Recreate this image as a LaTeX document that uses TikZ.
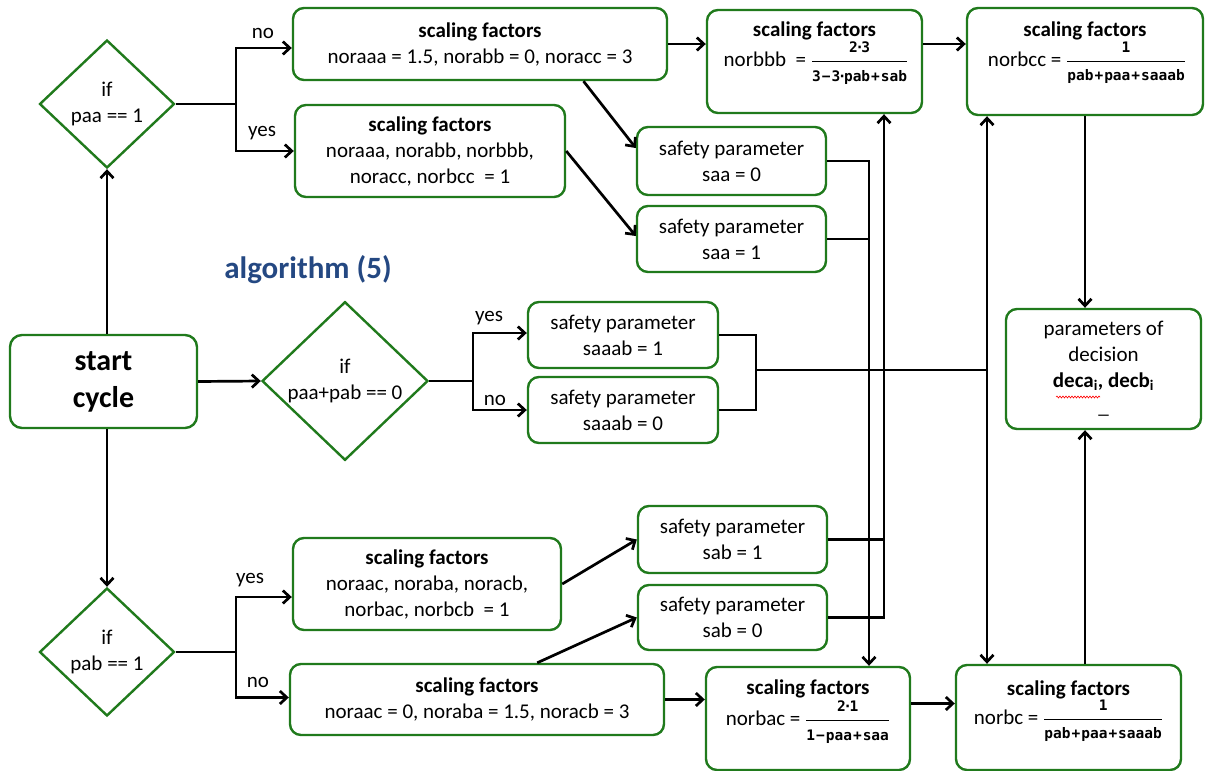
\documentclass[tikz,border=0pt]{standalone}
\usepackage{fontspec}
\usepackage{amsmath}
\setmainfont{Carlito}
\newfontfamily\fmono{DejaVu Sans Mono}
\usetikzlibrary{arrows.meta,shapes.geometric,calc,decorations.pathmorphing}
\definecolor{boxgreen}{RGB}{32,122,28}
\definecolor{algblue}{RGB}{36,72,130}
\newcommand\boxfont{\fontsize{21}{26}\selectfont}
\newcommand\fracfont{\fmono\bfseries\fontsize{14.5}{16}\selectfont}
\newcommand\fr[2]{\ensuremath{\dfrac{\hbox{\fracfont #1}}{\hbox{\fracfont #2}}}}
\newcommand\cdt{\kern-2.5pt·\kern-2.5pt}
\newcommand\pls{\kern1pt+\kern1pt}
\newcommand\mns{\kern1pt−\kern1pt}
\tikzset{
  box/.style={draw=boxgreen, line width=2.4pt, rounded corners=11pt, align=center,
    font=\boxfont, inner sep=0pt},
  dec/.style={draw=boxgreen, line width=2.4pt, diamond, align=center,
    inner sep=0pt, font=\boxfont},
  txt/.style={align=center, font=\boxfont, inner sep=0pt},
  conn/.style={line width=2.7pt, black},
  arr/.style={conn, -{Straight Barb[length=7pt,width=13pt]}},
  arrs/.style={conn, {Straight Barb[length=7pt,width=13pt]}-{Straight Barb[length=7pt,width=13pt]}},
}
\begin{document}
\begin{tikzpicture}[x=1pt,y=-1pt]
\useasboundingbox (0,0) rectangle (1208,771);

% decisions
\node[dec, minimum width=135pt, minimum height=128pt] (d1) at (107,104) {if\\paa == 1};
\node[dec, minimum width=166pt, minimum height=153pt] (d2) at (345,381) {if\\paa+pab == 0};
\node[dec, minimum width=135pt, minimum height=128pt] (d3) at (107,652) {if\\pab == 1};

% start
\node[box, rounded corners=12pt, minimum width=187pt, minimum height=93pt,
  font=\fontsize{30}{37}\selectfont\bfseries] (st) at (103.5,381.5) {start\\cycle};

\node[txt, font=\fontsize{31}{36}\selectfont\bfseries, text=algblue] (alg) at (308,270) {algorithm (5)};

% upper branch
\node[box, minimum width=374pt, minimum height=72pt] (b1) at (480,44)
  {\textbf{scaling factors}\\noraaa = 1.5, norabb = 0, noracc = 3};
\node[box, minimum width=270pt, minimum height=92pt] (b2) at (430,151)
  {\textbf{scaling factors}\\noraaa, norabb, norbbb,\\noracc, norbcc \ = 1};
\node[box, minimum width=189pt, minimum height=68pt] (s1) at (731.5,161)
  {safety parameter\\saa = 0};
\node[box, minimum width=189pt, minimum height=66pt] (s2) at (731.5,239)
  {safety parameter\\saa = 1};
\node[box, minimum width=215pt, minimum height=103pt] (nb) at (814.5,61.5) {};
\node[txt] (nbt) at (814.5,31) {\textbf{scaling factors}};
\node[txt] (nbf) at (816,63) {norbbb \ = \fr{2\cdt 3}{3\mns 3\cdt pab\pls sab}};
\node[box, minimum width=236pt, minimum height=107pt] (nc) at (1085,61.5) {};
\node[txt] (nct) at (1085,31) {\textbf{scaling factors}};
\node[txt] (ncf) at (1087,63) {norbcc = \fr{1}{pab\pls paa\pls saaab}};

% middle branch
\node[box, minimum width=190pt, minimum height=66pt] (t1) at (623,335)
  {safety parameter\\saaab = 1};
\node[box, minimum width=190pt, minimum height=66pt] (t0) at (623,410)
  {safety parameter\\saaab = 0};
\node[box, minimum width=195pt, minimum height=120pt] (pd) at (1103.5,369)
  {parameters of\\decision\\\textbf{deca\textsubscript{i}, decb\textsubscript{i}}\\\_};
\draw[red, line width=0.6pt, decorate, decoration={snake, amplitude=1pt, segment length=3pt}]
  (1056,397) -- (1100,397);

% lower branch
\node[box, minimum width=268pt, minimum height=92pt] (b3) at (427,584)
  {\textbf{scaling factors}\\noraac, noraba, noracb,\\norbac, norbcb \ = 1};
\node[box, minimum width=374pt, minimum height=71pt] (b4) at (477,699.5)
  {\textbf{scaling factors}\\noraac = 0, noraba = 1.5, noracb = 3};
\node[box, minimum width=189pt, minimum height=67pt] (u1) at (732.5,539.5)
  {safety parameter\\sab = 1};
\node[box, minimum width=189pt, minimum height=65pt] (u0) at (732.5,617.5)
  {safety parameter\\sab = 0};
\node[box, minimum width=204pt, minimum height=103pt] (na) at (808,718.5) {};
\node[txt] (nat) at (808,689) {\textbf{scaling factors}};
\node[txt] (naf) at (808,722) {norbac = \fr{2\cdt 1}{1\mns paa\pls saa}};
\node[box, minimum width=225pt, minimum height=105pt] (nbc) at (1068.5,717.5) {};
\node[txt] (nbct) at (1068.5,690) {\textbf{scaling factors}};
\node[txt] (nbcf) at (1068.5,721) {norbc = \fr{1}{pab\pls paa\pls saaab}};

% junction points
\coordinate (j1) at (236,104);
\coordinate (j2) at (473,381);
\coordinate (j3) at (236,652);
\coordinate (xa) at (869,0);
\coordinate (xb) at (884,0);
\coordinate (xc) at (756,0);
\coordinate (xd) at (987,0);
\coordinate (jm) at (756,370);

% start connectors
\draw[arr] (d1.south |- st.north) -- (d1.south);
\draw[arr] (d3.north |- st.south) -- (d3.north);
\draw[arr] (st.east) -- (d2.west);

% branches of the decisions
\draw[conn] (d1.east) -- (j1);
\draw[arr] (j1) |- ([yshift=-4pt]b1.west);
\draw[arr] (j1) |- (b2.west);
\node[txt] (l1) at (263,33) {no};
\node[txt] (l2) at (262,133) {yes};

\draw[conn] (d2.east) -- (j2);
\draw[arr] (j2) |- ([yshift=2pt]t1.west);
\draw[arr] (j2) |- (t0.west);
\node[txt] (l3) at (489,318) {yes};
\node[txt] (l4) at (495,400) {no};

\draw[conn] (d3.east) -- (j3);
\draw[arr] (j3) |- ([yshift=-13pt]b3.west);
\draw[arr] (j3) |- ([yshift=2pt]b4.west);
\node[txt] (l5) at (250,580) {yes};
\node[txt] (l6) at (258,682) {no};

% scaling factors to safety parameters
\draw[arr] ($(b1.south west)!0.775!(b1.south east)$) -- ([yshift=13pt]s1.west);
\draw[arr] (b2.east) -- ([yshift=3pt]s2.west);
\draw[arr] (b3.east) -- (u1.west);
\draw[arr] ($(b4.north west)!0.66!(b4.north east)$) -- (u0.west);

% scaling factor chains
\draw[arr] (b1.east) -- (b1.east -| nb.west);
\draw[arr] (b1.east -| nb.east) -- (b1.east -| nc.west);
\draw[arr] (b4.east) -- (b4.east -| na.west);
\draw[arr] ([yshift=15pt]na.east) -- ([yshift=15pt]na.east -| nbc.west);
\draw[arr] (nc.south) -- (nc.south |- pd.north);
\draw[arr] (nbc.north -| nc.south) -- (pd.south -| nc.south);

% safety parameter buses
\draw[arr] (s1.east) -| (xa |- na.north);
\draw[conn] (s2.east) -- (s2.east -| xa);
\draw[arr] (u0.east) -| (xb |- nb.south);
\draw[conn] (u1.east) -- (u1.east -| xb);
\draw[conn] (t1.east) -| (xc |- t0.east) -- (t0.east);
\draw[conn] (jm) -- (jm -| xd);
\draw[arrs] (xd |- nc.south) -- (xd |- nbc.north);
\end{tikzpicture}
\end{document}
